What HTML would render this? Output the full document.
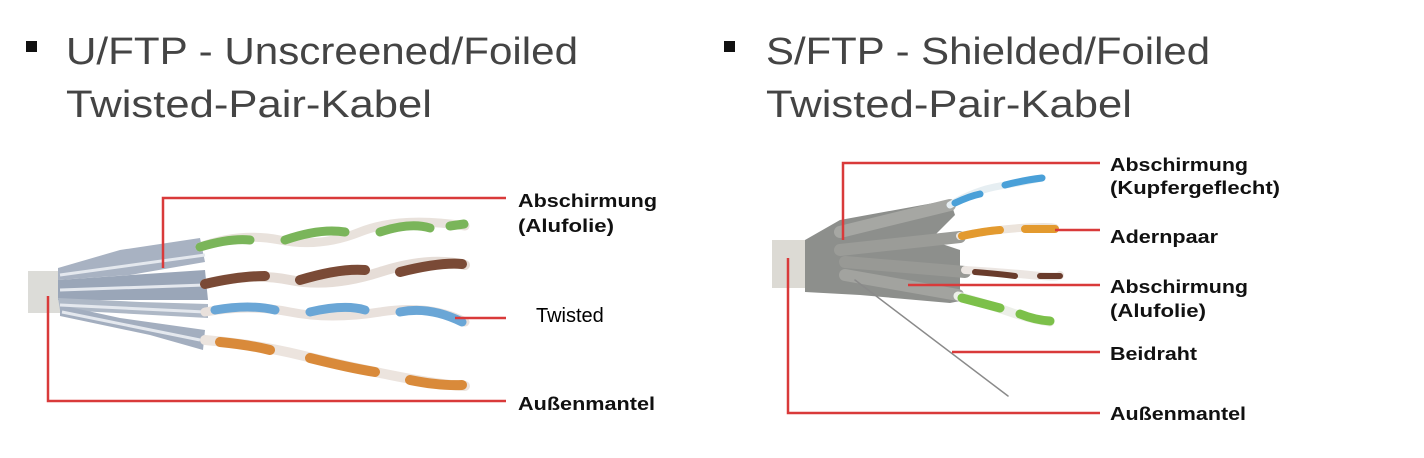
<!DOCTYPE html>
<html><head><meta charset="utf-8"><style>
html,body{margin:0;padding:0;background:#fff}
svg{display:block}
.h{font-family:"Liberation Sans Narrow","Liberation Sans",sans-serif;font-size:38px;fill:#444}
.l{font-family:"Liberation Sans",Arial,sans-serif;font-size:18px;font-weight:bold;fill:#111}
</style></head><body>
<svg width="1424" height="458" viewBox="0 0 1424 458" xmlns="http://www.w3.org/2000/svg">
<rect x="26" y="41" width="11" height="11" fill="#111"/>
<text class="h" x="66" y="64" textLength="512" lengthAdjust="spacingAndGlyphs">U/FTP - Unscreened/Foiled</text>
<text class="h" x="66" y="117" textLength="366" lengthAdjust="spacingAndGlyphs">Twisted-Pair-Kabel</text>
<rect x="724" y="41" width="11" height="11" fill="#111"/>
<text class="h" x="766" y="64" textLength="444" lengthAdjust="spacingAndGlyphs">S/FTP - Shielded/Foiled</text>
<text class="h" x="766" y="117" textLength="366" lengthAdjust="spacingAndGlyphs">Twisted-Pair-Kabel</text>

<!-- LEFT CABLE -->
<rect x="28" y="271" width="32" height="42" fill="#dcdcd8"/>
<polygon points="58,268 120,250 200,238 205,262 130,275 58,280" fill="#a8b2c2"/>
<polygon points="58,280 205,270 208,300 58,300" fill="#9aa6b8"/>
<polygon points="58,298 140,302 208,304 208,318 60,310" fill="#aeb8c6"/>
<polygon points="60,305 120,318 205,330 203,350 150,335 60,316" fill="#a3aebf"/>
<path d="M60,275 L205,255 M60,290 L205,285 M60,305 L205,312 M62,312 L200,340" stroke="#e4e8ee" stroke-width="3" fill="none"/>
<g fill="none" stroke-linecap="round">
<path d="M200,247 Q240,232 280,240 T360,232 T465,226" stroke="#e9e2dc" stroke-width="9"/>
<path d="M200,247 Q230,238 250,240 M285,240 Q320,228 345,232 M380,232 Q410,222 430,228 M450,226 L464,224" stroke="#7ab55a" stroke-width="9"/>
<path d="M205,284 Q250,272 290,280 T380,272 T465,265" stroke="#e6ddd7" stroke-width="10"/>
<path d="M205,284 Q240,276 265,276 M300,280 Q340,268 365,270 M400,272 Q440,262 462,264" stroke="#7a4a36" stroke-width="10"/>
<path d="M205,312 Q250,304 290,312 T380,312 T465,322" stroke="#e9e1dc" stroke-width="9"/>
<path d="M215,310 Q250,304 275,310 M310,312 Q345,304 365,310 M400,312 Q430,306 462,322" stroke="#6aa6d6" stroke-width="9"/>
<path d="M205,340 Q260,345 300,355 T390,375 T465,386" stroke="#ece4de" stroke-width="10"/>
<path d="M220,342 Q250,345 270,350 M310,358 Q350,368 375,372 M410,380 Q440,386 462,385" stroke="#d98a3a" stroke-width="10"/>
</g>
<g stroke="#d93a3a" stroke-width="2.5" fill="none">
<polyline points="163,268 163,198 506,198"/>
<polyline points="455,318 506,318"/>
<polyline points="48,296 48,401 506,401"/>
</g>
<text class="l" x="518" y="207" textLength="139" lengthAdjust="spacingAndGlyphs">Abschirmung</text>
<text class="l" x="518" y="232" textLength="96" lengthAdjust="spacingAndGlyphs">(Alufolie)</text>
<text x="536" y="322" font-family="Liberation Sans,Arial,sans-serif" font-size="20" fill="#000">Twisted</text>
<text class="l" x="518" y="410" textLength="137" lengthAdjust="spacingAndGlyphs">Außenmantel</text>

<!-- RIGHT CABLE -->
<rect x="772" y="240" width="35" height="48" fill="#dcdad4"/>
<polygon points="805,240 840,220 950,200 955,215 930,240 960,250 960,268 960,290 965,300 950,303 860,295 805,292" fill="#8d8f8c"/>
<g fill="none" stroke-linecap="round">
<path d="M840,232 L950,205" stroke="#a6a7a3" stroke-width="12"/>
<path d="M840,250 L960,237" stroke="#9b9c98" stroke-width="12"/>
<path d="M845,262 L965,272" stroke="#989995" stroke-width="12"/>
<path d="M845,275 L958,295" stroke="#a2a39f" stroke-width="12"/>
<path d="M950,205 Q975,190 1000,186 T1042,178" stroke="#e6eef2" stroke-width="7"/>
<path d="M955,203 Q970,196 980,194 M1005,185 Q1025,180 1042,178" stroke="#4aa0d8" stroke-width="7"/>
<path d="M960,236 Q990,230 1020,228 T1055,228" stroke="#ece4dc" stroke-width="8"/>
<path d="M962,236 Q985,231 1000,230 M1025,229 L1055,229" stroke="#e39a2f" stroke-width="8"/>
<path d="M965,270 Q1000,272 1030,275 T1060,275" stroke="#ece6e2" stroke-width="8"/>
<path d="M975,272 Q1000,274 1015,276 M1040,276 L1060,276" stroke="#6a3c2c" stroke-width="6"/>
<path d="M958,296 Q990,305 1010,312 T1050,322" stroke="#ecefe8" stroke-width="9"/>
<path d="M962,298 Q985,304 1000,308 M1020,314 Q1035,320 1050,321" stroke="#7cc04a" stroke-width="9"/>
<path d="M855,280 L1008,396" stroke="#8a8a8a" stroke-width="1.5"/>
</g>
<g stroke="#d93a3a" stroke-width="2.5" fill="none">
<polyline points="843,240 843,163 1100,163"/>
<polyline points="1055,230 1100,230"/>
<polyline points="908,285 1100,285"/>
<polyline points="952,352 1100,352"/>
<polyline points="788,258 788,413 1100,413"/>
</g>
<text class="l" x="1110" y="171" textLength="138" lengthAdjust="spacingAndGlyphs">Abschirmung</text>
<text class="l" x="1110" y="194" textLength="170" lengthAdjust="spacingAndGlyphs">(Kupfergeflecht)</text>
<text class="l" x="1110" y="243" textLength="108" lengthAdjust="spacingAndGlyphs">Adernpaar</text>
<text class="l" x="1110" y="293" textLength="138" lengthAdjust="spacingAndGlyphs">Abschirmung</text>
<text class="l" x="1110" y="317" textLength="96" lengthAdjust="spacingAndGlyphs">(Alufolie)</text>
<text class="l" x="1110" y="360" textLength="87" lengthAdjust="spacingAndGlyphs">Beidraht</text>
<text class="l" x="1110" y="420" textLength="136" lengthAdjust="spacingAndGlyphs">Außenmantel</text>
</svg>
</body></html>
